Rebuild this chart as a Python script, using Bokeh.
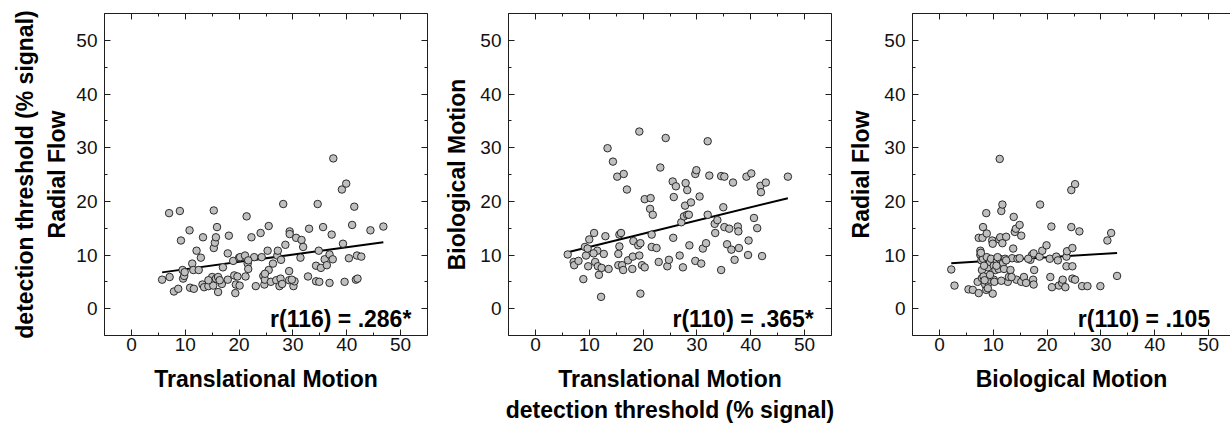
import numpy as np
from bokeh.plotting import figure
from bokeh.models import LinearAxis, SingleIntervalTicker, FixedTicker, Range1d
from bokeh.layouts import row
from bokeh.embed import file_html
from bokeh.resources import INLINE
from bokeh.core.properties import value

# ---------------- data ----------------
# Panel 1: Translational Motion (x) vs Radial Flow (y)
trans_1 = [5.7, 7.1, 7.0, 7.9, 8.7, 9.0, 9.2, 9.5, 9.6, 9.8, 10.8, 10.9, 11.3, 11.5, 11.6,
           12.1, 12.5, 12.9, 13.3, 13.2, 13.5, 14.3, 15.0, 15.2, 15.3, 15.3, 15.5, 15.7, 15.9,
           15.7, 16.1, 16.1, 16.8, 17.0, 17.9, 17.9, 18.1, 18.9, 19.1, 19.3, 19.4, 19.7, 20.0,
           20.1, 20.2, 21.1, 21.2, 21.4, 21.6, 21.7, 22.3, 22.8, 23.1, 24.0, 24.2, 24.5, 24.7,
           24.8, 25.3, 25.5, 25.5, 25.9, 26.3, 26.9, 27.1, 27.2, 27.5, 27.7, 27.8, 28.0, 28.2,
           28.6, 29.3, 29.3, 29.4, 29.4, 30.1, 30.3, 30.6, 31.4, 31.6, 31.9, 32.8, 33.0, 34.3,
           34.3, 34.6, 34.8, 34.9, 35.2, 35.6, 35.9, 36.3, 36.8, 36.8, 37.2, 37.4, 37.5, 39.3,
           39.1, 39.9, 39.6, 40.4, 41.0, 41.4, 41.7, 41.9, 42.0, 42.7, 44.4, 46.8,
           14.3, 16.4, 21.7, 29.8, 24.8, 9.9]
radial_1 = [5.4, 5.9, 17.8, 3.2, 3.7, 18.2, 12.7, 7.2, 5.6, 6.1, 14.6, 3.9, 8.4, 7.2, 3.7,
            10.8, 7.2, 9.5, 13.3, 4.5, 4.0, 4.2, 5.9, 4.3, 18.3, 11.3, 12.3, 13.3, 15.2,
            5.6, 5.9, 3.1, 4.6, 7.7, 10.3, 5.4, 13.6, 8.9, 6.2, 2.9, 4.5, 6.0, 9.5,
            4.3, 9.6, 9.9, 6.0, 17.2, 8.4, 7.4, 13.3, 9.6, 4.2, 14.1, 9.6, 6.1, 4.5,
            5.4, 10.8, 15.4, 7.2, 5.0, 8.4, 5.3, 9.9, 10.8, 4.2, 5.6, 9.1, 4.6, 19.5,
            11.9, 7.0, 5.3, 14.4, 13.9, 4.2, 5.1, 13.2, 9.5, 12.8, 11.5, 6.0, 14.9, 8.0,
            5.1, 19.5, 10.8, 5.0, 7.6, 15.2, 9.2, 8.1, 10.1, 4.8, 13.8, 9.2, 28.0, 12.1,
            22.2, 23.3, 5.0, 9.4, 15.6, 19.0, 5.4, 9.9, 5.6, 9.7, 14.6, 15.3,
            5.3, 5.3, 9.0, 5.4, 6.5, 6.8]

# Panel 2: Translational Motion (x) vs Biological Motion (y)
trans_2 = [6.0, 7.1, 7.2, 8.0, 8.9, 9.2, 9.4, 9.7, 9.8, 10.0, 10.9, 11.1, 11.5, 11.6, 11.8,
           12.2, 12.3, 12.7, 13.0, 13.4, 13.6, 14.4, 15.2, 15.4, 15.6, 15.6, 15.4, 15.9, 16.1,
           16.3, 16.4, 17.0, 17.2, 18.0, 18.2, 18.1, 19.1, 19.3, 19.3, 19.5, 19.5, 19.8, 20.3,
           20.3, 21.4, 21.3, 21.6, 21.8, 21.6, 22.5, 22.9, 23.2, 24.2, 24.5, 24.8, 25.5, 25.7,
           25.6, 26.1, 26.8, 27.1, 27.4, 27.6, 27.8, 27.9, 28.2, 28.2, 28.5, 28.6, 28.9, 29.7,
           29.7, 29.9, 30.5, 30.8, 31.1, 31.7, 32.0, 32.0, 32.3, 33.3, 33.4, 33.8, 34.5, 34.5,
           35.1, 34.9, 35.1, 35.6, 36.0, 36.4, 36.7, 37.0, 37.6, 37.7, 37.8, 39.2, 39.6, 39.5,
           40.1, 40.6, 41.2, 41.8, 41.9, 42.1, 42.8, 46.9, 10.8]
bio_2 = [10.1, 8.7, 8.1, 8.9, 5.5, 11.5, 9.9, 11.2, 7.9, 12.9, 14.1, 8.7, 10.8, 7.9, 6.3,
         2.2, 7.6, 10.2, 13.5, 29.9, 7.4, 27.4, 24.6, 10.2, 11.6, 13.8, 8.1, 14.1, 8.1,
         7.2, 25.1, 22.2, 9.0, 7.4, 12.6, 9.7, 11.8, 33.0, 9.9, 12.2, 2.8, 8.1, 7.7,
         20.4, 20.6, 18.6, 13.8, 17.5, 11.5, 11.3, 8.7, 26.3, 31.8, 7.9, 9.1, 23.7, 20.8,
         13.2, 22.8, 9.9, 16.1, 7.7, 17.2, 19.2, 23.4, 22.1, 17.5, 17.5, 11.8, 19.8, 8.9,
         25.1, 25.8, 20.9, 8.4, 11.2, 12.2, 17.5, 31.2, 24.8, 15.8, 14.1, 16.5, 7.2, 24.7,
         24.6, 18.9, 15.2, 12.0, 14.9, 11.0, 23.5, 9.1, 15.3, 14.4, 11.3, 24.6, 12.7, 10.0,
         25.2, 16.9, 15.0, 22.9, 21.7, 9.8, 23.5, 24.6, 10.3]

# Panel 3: Biological Motion (x) vs Radial Flow (y)
bio_3 = [2.2, 2.8, 5.4, 6.2, 7.1, 7.3, 7.3, 7.6, 7.6, 7.8, 7.9, 7.9, 8.0, 8.1, 8.1,
         8.2, 8.5, 8.7, 8.8, 8.7, 8.8, 9.0, 9.1, 9.3, 9.4, 9.6, 9.8, 9.9, 9.9,
         10.1, 10.2, 10.1, 10.4, 10.7, 11.0, 11.1, 11.2, 11.2, 11.3, 11.5, 11.7, 11.7, 11.8,
         12.0, 12.2, 12.4, 12.7, 12.9, 13.2, 13.5, 13.7, 13.8, 14.0, 14.2, 14.3, 14.5, 14.9,
         15.2, 15.2, 15.7, 16.1, 16.9, 17.2, 17.5, 17.6, 17.4, 17.5, 18.6, 18.7, 19.1, 19.9,
         20.5, 20.6, 20.8, 20.9, 21.7, 22.0, 22.2, 22.8, 22.9, 23.4, 23.6, 23.6, 23.7, 24.5,
         24.5, 24.7, 24.7, 24.7, 25.2, 25.2, 26.0, 26.5, 27.5, 29.9, 31.2, 31.9, 33.0,
         8.4, 9.4, 10.6, 12.4, 13.4, 14.9, 7.7, 11.5, 16.5, 9.0, 10.8, 8.3]
radial_3 = [7.3, 4.3, 3.6, 3.5, 5.0, 2.9, 13.2, 10.8, 10.0, 9.0, 7.2, 5.7, 13.2, 15.2, 9.3,
            6.0, 4.5, 17.8, 14.0, 3.5, 9.6, 7.7, 4.8, 5.4, 8.7, 9.3, 12.7, 12.1, 2.8,
            5.4, 5.0, 8.0, 7.2, 9.0, 7.4, 12.9, 27.9, 9.3, 13.3, 18.2, 19.4, 12.2, 8.5,
            7.4, 9.3, 13.4, 5.0, 5.9, 7.2, 9.4, 11.2, 17.1, 14.3, 14.9, 5.4, 9.3, 15.6,
            13.6, 5.0, 5.9, 4.8, 9.1, 10.0, 10.3, 7.2, 5.4, 4.5, 9.7, 19.4, 10.8, 11.8,
            9.3, 5.9, 15.3, 4.0, 9.7, 9.0, 4.3, 4.8, 5.4, 4.0, 9.7, 7.9, 10.7, 22.1,
            15.2, 11.3, 7.9, 5.6, 23.2, 5.4, 14.4, 4.2, 4.2, 4.2, 12.7, 14.1, 6.1,
            5.3, 6.3, 8.0, 9.0, 5.9, 9.4, 10.4, 5.2, 9.3, 3.8, 9.6, 8.0]

x_labels = ["Translational Motion", "Translational Motion", "Biological Motion"]
y_labels = ["Radial Flow", "Biological Motion", "Radial Flow"]
r_texts = ["r(116) = .286*", "r(110) = .365*", "r(110) = .105"]
shared_label = "detection threshold (% signal)"

# ---------------- style ----------------
FONT = "Liberation Sans"
INK = "#1e1e1e"
UNIT_PX = 323 / 60.0


def style_axis(ax, show_labels=True):
    ax.ticker = SingleIntervalTicker(interval=10, num_minor_ticks=2)
    ax.major_tick_in = 6
    ax.major_tick_out = 0
    ax.minor_tick_in = 3
    ax.minor_tick_out = 0
    ax.axis_line_color = INK
    ax.axis_line_width = 1
    ax.major_tick_line_color = INK
    ax.minor_tick_line_color = INK
    ax.major_label_text_font = FONT
    ax.axis_label_text_font = FONT
    ax.axis_label_text_font_style = "bold"
    ax.axis_label_text_font_size = "23px"
    ax.axis_label_text_color = "black"
    if show_labels:
        ax.major_label_text_font_size = "19px"
        ax.major_label_text_color = "#111111"
    else:
        # tick marks only: labels are not drawn
        ax.major_label_text_font_size = "1px"
        ax.major_label_text_color = None
        ax.major_label_text_alpha = 0
        ax.major_label_standoff = 0


def label_only_axis(text, standoff):
    ax = LinearAxis(ticker=FixedTicker(ticks=[]), axis_label=text)
    ax.axis_line_color = None
    ax.major_tick_line_color = None
    ax.minor_tick_line_color = None
    ax.major_label_standoff = 0
    ax.axis_label_standoff = standoff
    ax.axis_label_text_font = FONT
    ax.axis_label_text_font_style = "bold"
    ax.axis_label_text_font_size = "23px"
    ax.axis_label_text_color = "black"
    return ax


def make_panel(xs, ys, xlab, ylab, rtext, r_x, frame_w, left_b, right_b, ylab_standoff,
               right_axis=True, outer_left=False, outer_bottom=False):
    x_end = -5 + frame_w / UNIT_PX
    p = figure(frame_width=frame_w, frame_height=322,
               x_range=Range1d(-5, x_end), y_range=Range1d(-5, 55),
               output_backend="svg", toolbar_location=None,
               min_border_left=left_b, min_border_right=right_b,
               min_border_top=13, min_border_bottom=0,
               x_axis_label=xlab, y_axis_label=ylab)
    p.grid.visible = False
    p.outline_line_color = None
    p.background_fill_color = "white"
    p.border_fill_color = "white"

    style_axis(p.xaxis[0])
    style_axis(p.yaxis[0])
    p.xaxis[0].major_label_standoff = 2
    p.xaxis[0].axis_label_standoff = 12
    p.yaxis[0].major_label_standoff = 7
    p.yaxis[0].axis_label_standoff = ylab_standoff

    top = LinearAxis()
    style_axis(top, show_labels=False)
    p.add_layout(top, "above")
    if right_axis:
        rgt = LinearAxis()
        style_axis(rgt, show_labels=False)
        p.add_layout(rgt, "right")

    if outer_left:
        p.add_layout(label_only_axis(shared_label, 4), "left")
    if outer_bottom:
        p.add_layout(label_only_axis(shared_label, 2), "below")

    xs_a = np.asarray(xs, dtype=float)
    ys_a = np.asarray(ys, dtype=float)
    slope, intercept = np.polyfit(xs_a, ys_a, 1)
    fx = np.array([xs_a.min(), xs_a.max()])
    p.line(fx, slope * fx + intercept, line_color="black", line_width=2)

    p.scatter(xs, ys, size=7.5, fill_color="#bfbfbf", line_color="#1a1a1a",
              line_width=0.9)

    p.text(x=[r_x], y=[-1.9], text=[rtext], text_align="right",
           text_baseline="alphabetic", text_font=value(FONT),
           text_font_style="bold", text_font_size="23px", text_color="black")
    return p


p1 = make_panel(trans_1, radial_1, x_labels[0], y_labels[0], r_texts[0], 52.0,
                323, 104, 11, 3, outer_left=True)
p2 = make_panel(trans_2, bio_2, x_labels[1], y_labels[1], r_texts[1], 51.7,
                323, 70, 11, 7, outer_bottom=True)
p3 = make_panel(bio_3, radial_3, x_labels[2], y_labels[2], r_texts[2], 50.3,
                318, 70, 0, 7, right_axis=False)

layout = row(p1, p2, p3, spacing=0)

with open("out.html", "w") as f:
    f.write(file_html(layout, INLINE))
